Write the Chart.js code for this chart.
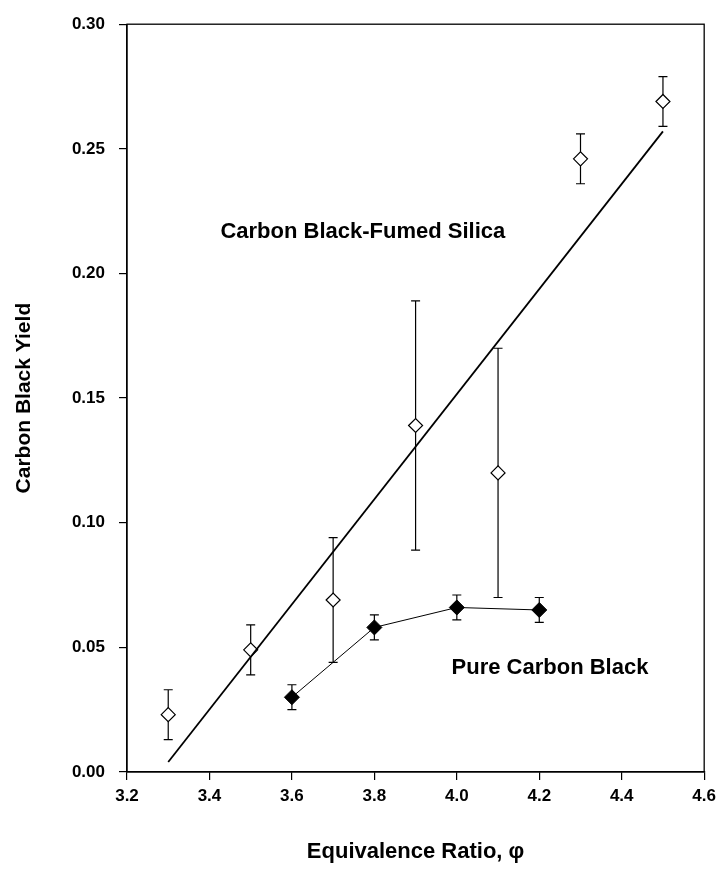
<!DOCTYPE html>
<html lang="en">
<head>
  <meta charset="UTF-8">
  <title>Carbon Black Yield</title>
  <script src="https://cdn.jsdelivr.net/npm/chart.js"></script>
  <style>
    html, body { margin: 0; padding: 0; background: #fff; }
    #wrap { width: 722px; height: 873px; }
  </style>
</head>
<body>
  <div id="wrap"><canvas id="chart" width="722" height="873"></canvas></div>

  <script>
  // carbon black - fumed silica (open diamonds)
  const silicaPhi = [3.3, 3.5, 3.7, 3.9, 4.1, 4.3, 4.5];
  const silicaYield = [0.023, 0.049, 0.069, 0.139, 0.120, 0.246, 0.269];
  const silicaErr = [0.010, 0.010, 0.025, 0.050, 0.050, 0.010, 0.010];

  // pure carbon black (filled diamonds)
  const purePhi = [3.6, 3.8, 4.0, 4.2];
  const pureYield = [0.030, 0.058, 0.066, 0.065];
  const pureErr = [0.005, 0.005, 0.005, 0.005];

  // linear fit through the fumed silica points
  const fitPhi = [3.3, 4.5];
  const fitYield = [0.004, 0.257];

  // in-plot labels
  const labelText = ['Carbon Black-Fumed Silica', 'Pure Carbon Black'];
  const labelPhi = [3.772, 4.226];
  const labelYield = [0.2166, 0.0417];

  const xTicks = [3.2, 3.4, 3.6, 3.8, 4.0, 4.2, 4.4, 4.6];
  const yTicks = [0.00, 0.05, 0.10, 0.15, 0.20, 0.25, 0.30];

  const FONT = '"Liberation Sans", Arial, Helvetica, sans-serif';

  function toPoints(xs, ys) {
    return xs.map(function(x, i) { return {x: x, y: ys[i]}; });
  }

  // error bars, drawn under the markers
  const errorBars = {
    id: 'errorBars',
    beforeDatasetsDraw: function(chart) {
      const ctx = chart.ctx;
      const xs = chart.scales.x, ys = chart.scales.y;
      ctx.save();
      ctx.strokeStyle = '#000';
      ctx.lineWidth = 1.2;
      chart.data.datasets.forEach(function(ds) {
        if (!ds.errors) return;
        ds.data.forEach(function(p, i) {
          const px = xs.getPixelForValue(p.x);
          const top = ys.getPixelForValue(p.y + ds.errors[i]);
          const bot = ys.getPixelForValue(p.y - ds.errors[i]);
          ctx.beginPath();
          ctx.moveTo(px, top); ctx.lineTo(px, bot);
          ctx.moveTo(px - 4.5, top); ctx.lineTo(px + 4.5, top);
          ctx.moveTo(px - 4.5, bot); ctx.lineTo(px + 4.5, bot);
          ctx.stroke();
        });
      });
      ctx.restore();
    }
  };

  // frame round the plot and the two text labels
  const frameAndLabels = {
    id: 'frameAndLabels',
    afterDraw: function(chart) {
      const ctx = chart.ctx;
      const a = chart.chartArea;
      ctx.save();
      ctx.strokeStyle = '#000';
      ctx.lineWidth = 1.3;
      ctx.strokeRect(a.left, a.top, a.right - a.left, a.bottom - a.top);
      ctx.fillStyle = '#000';
      ctx.font = 'bold 22px ' + FONT;
      ctx.textAlign = 'center';
      ctx.textBaseline = 'middle';
      labelText.forEach(function(t, i) {
        ctx.fillText(t, chart.scales.x.getPixelForValue(labelPhi[i]), chart.scales.y.getPixelForValue(labelYield[i]));
      });
      ctx.restore();
    }
  };

  const ctx = document.getElementById('chart').getContext('2d');
  const chart = new Chart(ctx, {
    type: 'scatter',
    data: {
      datasets: [
        {
          label: 'fit',
          data: toPoints(fitPhi, fitYield),
          showLine: true,
          borderColor: '#000',
          borderWidth: 1.8,
          pointRadius: 0,
          fill: false
        },
        {
          label: 'Pure Carbon Black',
          data: toPoints(purePhi, pureYield),
          errors: pureErr,
          showLine: true,
          borderColor: '#000',
          borderWidth: 1,
          pointStyle: 'rectRot',
          pointRadius: 7.5,
          pointBackgroundColor: '#000',
          pointBorderColor: '#000',
          pointBorderWidth: 1
        },
        {
          label: 'Carbon Black-Fumed Silica',
          data: toPoints(silicaPhi, silicaYield),
          errors: silicaErr,
          showLine: false,
          pointStyle: 'rectRot',
          pointRadius: 7,
          pointBackgroundColor: '#fff',
          pointBorderColor: '#000',
          pointBorderWidth: 1.2
        }
      ]
    },
    options: {
      responsive: false,
      devicePixelRatio: 1,
      animation: false,
      layout: { padding: { top: 24, right: 15, left: 0, bottom: 0 } },
      plugins: {
        legend: { display: false },
        tooltip: { enabled: false }
      },
      scales: {
        x: {
          type: 'linear',
          min: 3.2,
          max: 4.6,
          afterBuildTicks: function(s) { s.ticks = xTicks.map(function(v) { return {value: v}; }); },
          afterFit: function(s) { s.height = 101; },
          grid: { drawOnChartArea: false, drawTicks: true, tickLength: 8, color: '#000', lineWidth: 1.2 },
          border: { display: true, color: '#000', width: 1.3 },
          ticks: {
            color: '#000',
            padding: 6,
            maxRotation: 0,
            font: { family: FONT, size: 17, weight: 'bold' },
            callback: function(v) { return Number(v).toFixed(1); }
          },
          title: {
            display: true,
            text: 'Equivalence Ratio, \u03c6',
            color: '#000',
            font: { family: FONT, size: 22, weight: 'bold' },
            padding: { top: 0, bottom: 8 }
          }
        },
        y: {
          type: 'linear',
          min: 0,
          max: 0.30,
          afterBuildTicks: function(s) { s.ticks = yTicks.map(function(v) { return {value: v}; }); },
          afterFit: function(s) { s.width = 127; },
          grid: { drawOnChartArea: false, drawTicks: true, tickLength: 8, color: '#000', lineWidth: 1.2 },
          border: { display: true, color: '#000', width: 1.3 },
          ticks: {
            color: '#000',
            padding: 14,
            font: { family: FONT, size: 17, weight: 'bold' },
            callback: function(v) { return Number(v).toFixed(2); }
          },
          title: {
            display: true,
            text: 'Carbon Black Yield',
            color: '#000',
            font: { family: FONT, size: 21, weight: 'bold' },
            padding: { top: 12, bottom: 0 }
          }
        }
      }
    },
    plugins: [errorBars, frameAndLabels]
  });
  </script>
</body>
</html>
